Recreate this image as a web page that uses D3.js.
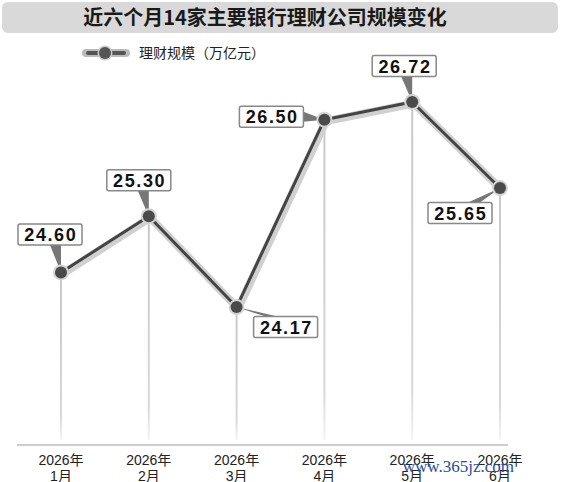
<!DOCTYPE html>
<html><head><meta charset="utf-8">
<script src="https://cdn.jsdelivr.net/npm/d3@7"></script>
<style>
html,body{margin:0;padding:0;background:#fff;}
svg{display:block;font-family:"Liberation Sans","Noto Sans CJK SC",Arial,sans-serif;}
</style></head>
<body>
<svg id="c" width="561" height="482"></svg>
<script>
const title = "近六个月14家主要银行理财公司规模变化";
const legendLabel = "理财规模（万亿元）";
const years = ["2026年","2026年","2026年","2026年","2026年","2026年"];
const months = ["1月","2月","3月","4月","5月","6月"];
const values = [24.60, 25.30, 24.17, 26.50, 26.72, 25.65];
const watermark = "www.365jz.com";

// layout for value label boxes (offset of box centre from point)
const labelLayout = [
  {dx:-11, dy:-38, side:"bottom"},
  {dx:-10, dy:-36, side:"bottom"},
  {dx:49,  dy:20,  side:"top"},
  {dx:-53, dy:-3,  side:"right"},
  {dx:-8,  dy:-36, side:"bottom"},
  {dx:-40, dy:25,  side:"top"}
];

const svg = d3.select("#c");
const idx = months.map((m,i)=>i);
const x = d3.scalePoint().domain(idx).range([61, 500]);
const y = d3.scaleLinear().domain([22.454, 27.5]).range([445, 39.3]);

const defs = svg.append("defs");
const g1 = defs.append("linearGradient").attr("id","drop").attr("x1",0).attr("y1",0).attr("x2",0).attr("y2",1);
g1.append("stop").attr("offset","0%").attr("stop-color","#c8c8c8");
g1.append("stop").attr("offset","85%").attr("stop-color","#d8d8d8");
g1.append("stop").attr("offset","100%").attr("stop-color","#f4f4f4");

// title bar
svg.append("rect").attr("x",2).attr("y",2).attr("width",556).attr("height",31).attr("rx",6)
  .attr("fill","#d9d9d9");
svg.append("text").attr("x",265).attr("y",25).attr("text-anchor","middle")
  .attr("font-size",20).attr("font-weight","bold").attr("fill","#1a1a1a")
  .attr("font-family","'Noto Sans CJK SC','Liberation Sans',sans-serif").text(title);

// legend
const lg = svg.append("g");
lg.append("line").attr("x1",86).attr("x2",126).attr("y1",53).attr("y2",53)
  .attr("stroke","#bbb").attr("stroke-width",8).attr("stroke-linecap","round");
lg.append("line").attr("x1",88).attr("x2",124).attr("y1",53).attr("y2",53)
  .attr("stroke","#555").attr("stroke-width",4).attr("stroke-linecap","round");
lg.append("circle").attr("cx",105).attr("cy",53).attr("r",7.5).attr("fill","#ccc");
lg.append("circle").attr("cx",105).attr("cy",53).attr("r",6).attr("fill","#555");
lg.append("text").attr("x",139).attr("y",58).attr("font-size",14).attr("fill","#222")
  .attr("font-family","'Noto Sans CJK SC',sans-serif").text(legendLabel);

// drop lines
svg.append("g").selectAll("rect").data(idx).join("rect")
  .attr("x", i=>x(i)-1).attr("width",2)
  .attr("y", i=>y(values[i])).attr("height", i=>440-y(values[i]))
  .attr("fill","url(#drop)");

// axis
const axis = d3.axisBottom(x).tickSize(0).tickFormat(()=> "");
const ag = svg.append("g").attr("transform","translate(0,445)").call(axis);
ag.select(".domain").remove();
ag.append("line").attr("x1",17).attr("x2",508).attr("stroke","#bdbdbd").attr("stroke-width",1.5);
const tl = svg.append("g").attr("font-family","'Liberation Sans','Noto Sans CJK SC',sans-serif")
  .attr("font-size",14).attr("fill","#222").attr("text-anchor","middle");
tl.selectAll("text.yr").data(idx).join("text").attr("class","yr")
  .attr("x",i=>x(i)).attr("y",465).text(i=>years[i]);
tl.selectAll("text.mo").data(idx).join("text").attr("class","mo")
  .attr("x",i=>x(i)).attr("y",481).text(i=>months[i]);

// line with halo
const line = d3.line().x(i=>x(i)).y(i=>y(values[i]));
svg.append("path").datum(idx).attr("d",line).attr("fill","none")
  .attr("stroke","#d0d0d0").attr("stroke-width",8).attr("stroke-linejoin","round")
  .attr("transform","translate(1.5,1.5)");
svg.append("path").datum(idx).attr("d",line).attr("fill","none")
  .attr("stroke","#444").attr("stroke-width",3).attr("stroke-linejoin","round");

// label pointers
const bw = 64, bh = 21;
const lab = svg.append("g");
idx.forEach(i=>{
  const px = x(i), py = y(values[i]);
  const L = labelLayout[i];
  const cx = px + L.dx, cy = py + L.dy;
  let pts;
  if (L.side==="bottom"){ const by = cy+bh/2; const bx = px-5; pts=[[bx-6,by],[bx+5,by],[px,py]]; }
  else if (L.side==="top"){ const by = cy-bh/2; const bx = L.dx>0? cx-bw/2+18 : cx+bw/2-18; pts=[[bx-6,by],[bx+6,by],[px,py]]; }
  else { const bxr = cx+bw/2; pts=[[bxr,cy-5],[bxr,cy+5],[px,py]]; }
  lab.append("path").attr("d", "M"+pts.map(p=>p.join(",")).join("L")+"Z").attr("fill","#777");
});
// points
svg.append("g").selectAll("circle.h").data(idx).join("circle")
  .attr("cx",i=>x(i)).attr("cy",i=>y(values[i])).attr("r",8).attr("fill","#d4d4d4");
svg.append("g").selectAll("circle.p").data(idx).join("circle")
  .attr("cx",i=>x(i)).attr("cy",i=>y(values[i])).attr("r",6).attr("fill","#4a4a4a");
idx.forEach(i=>{
  const px = x(i), py = y(values[i]);
  const L = labelLayout[i];
  const cx = px + L.dx, cy = py + L.dy;
  lab.append("rect").attr("x",cx-bw/2).attr("y",cy-bh/2).attr("width",bw).attr("height",bh)
    .attr("rx",2).attr("fill","#fff").attr("stroke","#888").attr("stroke-width",1.5);
  lab.append("text").attr("x",cx+0.8).attr("y",cy+6.5).attr("text-anchor","middle")
    .attr("font-size",18).attr("font-weight","bold").attr("fill","#111")
    .attr("letter-spacing",1.6).text(values[i].toFixed(2));
});

// watermark
svg.append("text").attr("x",514).attr("y",472).attr("text-anchor","end")
  .attr("font-family","'Liberation Serif','DejaVu Serif',serif").attr("font-size",17)
  .attr("fill","#2a4a9a").text(watermark);
</script>
</body></html>
